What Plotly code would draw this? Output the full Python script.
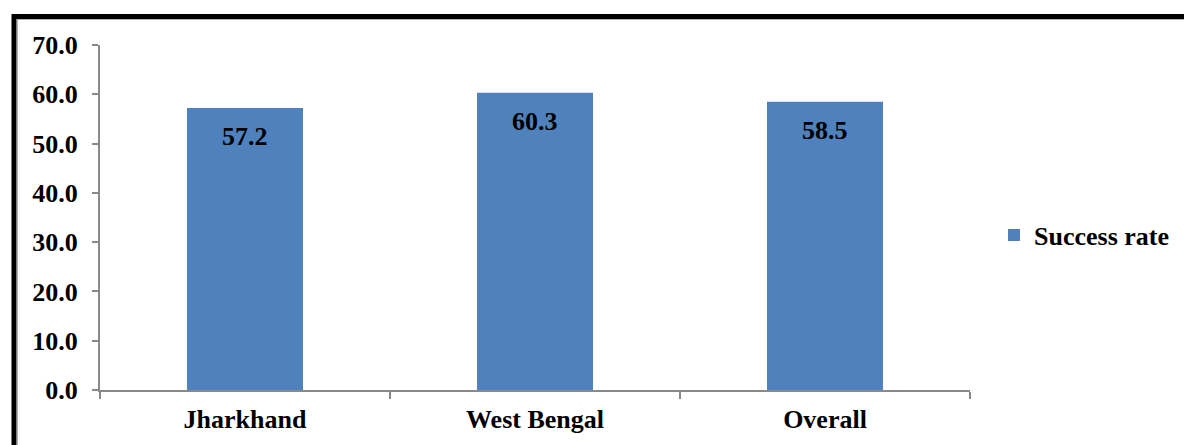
import plotly.graph_objects as go

# Success rate by region
regions = ["Jharkhand", "West Bengal", "Overall"]
success_rate = [57.2, 60.3, 58.5]
y_ticks = [0, 10, 20, 30, 40, 50, 60, 70]

W, H = 1184, 445
L, R, T, B = 100, 214, 45, 55
plot_w = W - L - R
plot_h = H - T - B

def px_x(px):
    return (px - L) / plot_w

def px_y(py):
    return (H - B - py) / plot_h

serif = dict(family="Times New Roman, Liberation Serif, serif", size=26, color="black", weight="bold")
axis_grey = "#898989"

fig = go.Figure()
fig.add_trace(go.Bar(
    x=regions,
    y=success_rate,
    name="Success rate",
    marker=dict(color="#4F81BD", line=dict(width=0)),
    showlegend=True,
))

# value labels inside the top of each bar
for r, v in zip(regions, success_rate):
    fig.add_annotation(
        x=r, y=v, text=f"{v:.1f}", showarrow=False,
        yanchor="top", yshift=-12, font=serif,
    )

# outer chart frame
fig.add_shape(type="rect", xref="paper", yref="paper",
              x0=px_x(14), x1=px_x(1200), y0=px_y(460), y1=px_y(16.5),
              line=dict(color="black", width=5), fillcolor="rgba(0,0,0,0)", layer="above")
fig.add_shape(type="line", xref="paper", yref="paper",
              x0=px_x(17), x1=px_x(1200), y0=px_y(19.5), y1=px_y(19.5),
              line=dict(color="#b0b0b0", width=1))
fig.add_shape(type="line", xref="paper", yref="paper",
              x0=px_x(17.5), x1=px_x(17.5), y0=px_y(460), y1=px_y(19.5),
              line=dict(color="#b0b0b0", width=1))

fig.update_layout(
    width=W, height=H,
    margin=dict(l=L, r=R, t=T, b=B, pad=0, autoexpand=False),
    paper_bgcolor="white",
    plot_bgcolor="white",
    bargap=0.6,
    font=serif,
    legend=dict(
        xref="container", yref="container",
        x=994 / W, y=(H - 235) / H, xanchor="left", yanchor="middle",
        font=serif, bgcolor="rgba(0,0,0,0)",
        itemwidth=30,
    ),
    xaxis=dict(
        showline=True, linecolor=axis_grey, linewidth=2,
        ticks="outside", tickson="boundaries", ticklen=7, tickcolor=axis_grey, tickwidth=2,
        tickfont=serif, showgrid=False, zeroline=False,
        ticklabelstandoff=5,
    ),
    yaxis=dict(
        range=[0, 70], tickvals=y_ticks, tickformat=".1f",
        showline=True, linecolor=axis_grey, linewidth=2,
        ticks="outside", ticklen=6, tickcolor=axis_grey, tickwidth=2,
        tickfont=serif, showgrid=False, zeroline=False,
        ticklabelstandoff=9,
    ),
)

fig.write_html("out.html")
